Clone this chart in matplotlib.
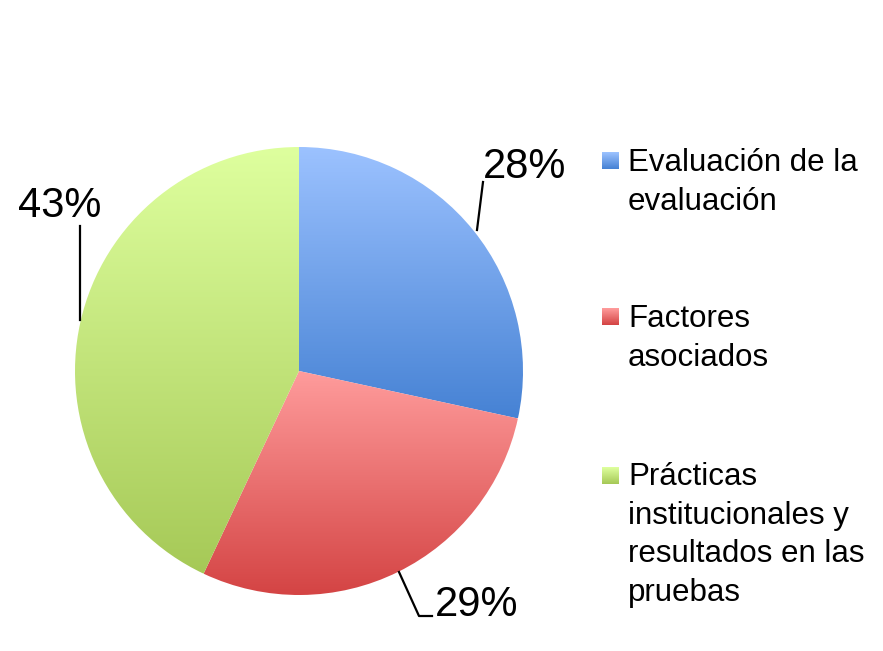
import numpy as np
import matplotlib
matplotlib.use("Agg")
import matplotlib.pyplot as plt
from matplotlib.colors import LinearSegmentedColormap

plt.rcParams['font.family'] = ['Liberation Sans', 'DejaVu Sans']

# datos
categorias = ["Evaluación de la\nevaluación", "Factores\nasociados",
              "Prácticas\ninstitucionales y\nresultados en las\npruebas"]
valores = [28.4, 28.6, 43.0]
etiquetas = ["28%", "29%", "43%"]

# degradado (arriba claro, abajo oscuro)
col_claro = ["#9CC2FF", "#FF9C9C", "#DEFF9E"]
col_oscuro = ["#4682D4", "#D44444", "#A6C957"]

W, H = 883, 651
fig = plt.figure(figsize=(W / 100, H / 100), dpi=100)
ax = fig.add_axes([0, 0, 1, 1])

cx, cy, r = 299, H - 371, 224
wedges, _ = ax.pie(valores, center=(cx, cy), radius=r, startangle=90,
                   counterclock=False, frame=True)
ax.set_xlim(0, W)
ax.set_ylim(0, H)
ax.set_aspect('equal')
ax.axis('off')

for w, c1, c2 in zip(wedges, col_claro, col_oscuro):
    verts = w.get_path().vertices
    x0, x1 = verts[:, 0].min(), verts[:, 0].max()
    y0, y1 = verts[:, 1].min(), verts[:, 1].max()
    cmap = LinearSegmentedColormap.from_list("g", [c2, c1])
    grad = np.linspace(0, 1, 256).reshape(-1, 1)
    im = ax.imshow(grad, cmap=cmap, origin='lower', aspect='auto',
                   extent=(x0, x1, y0, y1), zorder=1)
    im.set_clip_path(w)
    w.set_facecolor('none')
    w.set_edgecolor('none')

# etiquetas con lineas guia
ax.plot([477, 483], [H - 230, H - 182], color='black', lw=1.6)
ax.text(483, H - 167, etiquetas[0], fontsize=30, ha='left', va='center')

ax.plot([399, 419, 432], [H - 572, H - 616, H - 616], color='black', lw=1.6)
ax.text(435, H - 605, etiquetas[1], fontsize=30, ha='left', va='center')

ax.plot([80, 80], [H - 226, H - 320], color='black', lw=1.6)
ax.text(60, H - 206, etiquetas[2], fontsize=30, ha='center', va='center')

# leyenda manual (va='baseline' alinea la ultima linea)
paso = 38
leg_base = [172, 328, 487]
for yb, cat, c1, c2 in zip(leg_base, categorias, col_claro, col_oscuro):
    cmap = LinearSegmentedColormap.from_list("g", [c2, c1])
    grad = np.linspace(0, 1, 32).reshape(-1, 1)
    ax.imshow(grad, cmap=cmap, origin='lower', aspect='auto',
              extent=(602, 619, H - yb + 3, H - yb + 20), zorder=2)
    n = cat.count("\n")
    ax.text(628, H - yb - n * paso, cat, fontsize=22.5, ha='left',
            va='baseline', linespacing=1.37)

fig.savefig("out.png", dpi=100)
